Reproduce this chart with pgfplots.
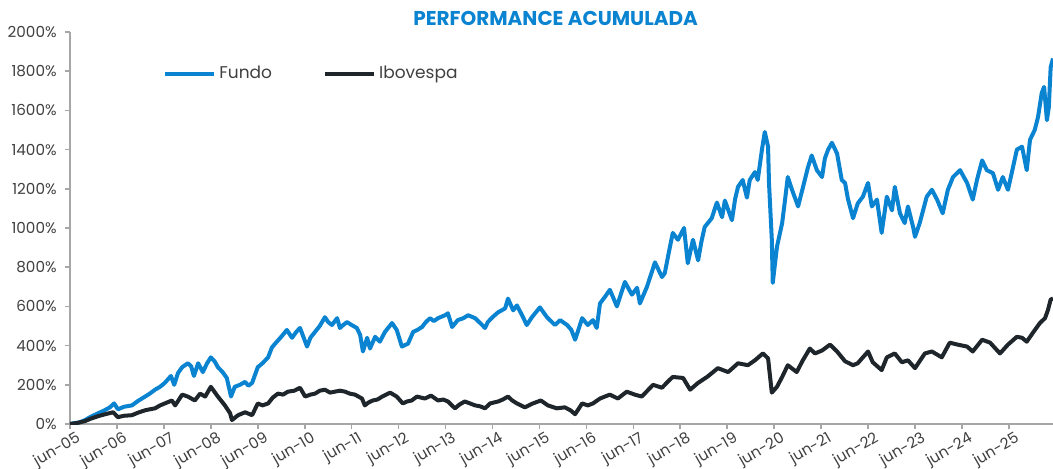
\documentclass[border=0pt]{standalone}
\usepackage{pgfplots}
\pgfplotsset{compat=1.18}
\usepackage{fontspec}
\setmainfont{Poppins}
\definecolor{fundo}{HTML}{0A83D1}
\definecolor{ibov}{HTML}{1E252B}
\definecolor{axgray}{HTML}{A6A6A6}
\definecolor{txt}{HTML}{404040}
\begin{document}
\begin{tikzpicture}
\useasboundingbox (-35pt,-22pt) rectangle (491.5pt,212pt);
\begin{axis}[
  scale only axis,
  width=491.5pt, height=196pt,
  xmin=0, xmax=20.94, ymin=0, ymax=2000,
  axis lines=left,
  axis line style={axgray, line width=0.8pt, -},
  tick style={axgray, line width=0.8pt},
  tick align=outside,
  major tick length=2.5pt,
  xtick={0,1,...,20},
  xticklabels={jun-05,jun-06,jun-07,jun-08,jun-09,jun-10,jun-11,jun-12,jun-13,jun-14,jun-15,jun-16,jun-17,jun-18,jun-19,jun-20,jun-21,jun-22,jun-23,jun-24,jun-25},
  ytick={0,200,...,2000},
  yticklabels={0\%,200\%,400\%,600\%,800\%,1000\%,1200\%,1400\%,1600\%,1800\%,2000\%},
  ticklabel style={font=\fontsize{7.6}{9}\selectfont, text=txt},
  xticklabel style={rotate=30, anchor=north east, inner sep=1pt, xshift=3pt, yshift=-1pt},
  yticklabel style={inner sep=1pt, xshift=-3pt},
  legend columns=2,
  legend style={at={(axis description cs:0.0946,0.893)}, anchor=west, draw=none, fill=none, inner sep=0pt,
    font=\fontsize{8.5}{10}\selectfont, text=txt, nodes={inner sep=1.5pt},
    /tikz/every even column/.append style={column sep=24pt}},
  legend image code/.code={\draw[#1, line width=2pt] (0pt,0pt) -- (24.5pt,0pt);},
  clip mode=individual,
]
\addplot[fundo, line width=2pt, line join=round] coordinates {
(0.00,0) (0.10,5) (0.20,8) (0.32,20) (0.45,38) (0.60,55) (0.72,68) (0.85,85) (0.94,105) (1.02,75) (1.15,88) (1.32,95) (1.45,118) (1.60,140) (1.70,155) (1.81,175) (1.92,190) (2.02,210) (2.15,245) (2.22,200) (2.30,260) (2.39,290) (2.51,310) (2.58,295) (2.64,245) (2.73,310) (2.83,265) (2.92,310) (3.00,340) (3.08,320) (3.15,290) (3.25,265) (3.34,235) (3.43,140) (3.51,190) (3.62,200) (3.73,215) (3.80,195) (3.88,210) (4.00,290) (4.10,310) (4.22,340) (4.30,390) (4.37,410) (4.50,445) (4.62,480) (4.73,440) (4.82,470) (4.90,490) (5.05,395) (5.12,440) (5.22,470) (5.32,500) (5.43,545) (5.50,520) (5.58,505) (5.69,540) (5.75,490) (5.82,505) (5.90,520) (6.00,505) (6.11,490) (6.18,455) (6.24,370) (6.33,440) (6.39,385) (6.50,445) (6.60,420) (6.71,470) (6.86,515) (6.96,480) (7.07,395) (7.20,410) (7.31,470) (7.40,480) (7.50,495) (7.58,520) (7.67,540) (7.75,525) (7.84,540) (7.99,555) (8.05,565) (8.14,495) (8.26,530) (8.38,540) (8.48,555) (8.63,540) (8.78,505) (8.84,490) (8.90,520) (9.00,545) (9.12,570) (9.27,590) (9.33,640) (9.44,580) (9.52,605) (9.63,555) (9.73,505) (9.84,545) (10.01,595) (10.16,545) (10.33,505) (10.44,530) (10.59,505) (10.68,480) (10.76,430) (10.91,540) (11.03,505) (11.14,530) (11.22,490) (11.29,615) (11.40,650) (11.50,685) (11.65,600) (11.82,725) (11.97,660) (12.08,695) (12.14,615) (12.29,700) (12.40,780) (12.46,825) (12.61,750) (12.67,770) (12.76,880) (12.84,975) (12.95,940) (13.08,1000) (13.16,820) (13.27,940) (13.38,835) (13.45,930) (13.52,1005) (13.67,1050) (13.78,1130) (13.89,1055) (13.95,1140) (14.10,1040) (14.17,1150) (14.23,1210) (14.33,1245) (14.42,1155) (14.48,1245) (14.59,1285) (14.65,1245) (14.74,1400) (14.80,1490) (14.87,1415) (14.89,1230) (14.95,940) (14.97,720) (15.06,905) (15.17,1025) (15.23,1140) (15.29,1260) (15.38,1195) (15.51,1110) (15.61,1205) (15.72,1310) (15.80,1370) (15.91,1295) (16.02,1260) (16.08,1355) (16.15,1400) (16.23,1435) (16.34,1380) (16.44,1245) (16.51,1230) (16.57,1150) (16.68,1050) (16.78,1125) (16.89,1160) (17.00,1230) (17.08,1110) (17.19,1145) (17.29,975) (17.40,1160) (17.51,1090) (17.57,1210) (17.68,1075) (17.78,1025) (17.85,1110) (17.96,1005) (18.00,955) (18.10,1025) (18.25,1160) (18.36,1195) (18.47,1145) (18.59,1075) (18.70,1195) (18.81,1260) (18.96,1295) (19.11,1230) (19.23,1145) (19.32,1245) (19.43,1345) (19.53,1295) (19.66,1280) (19.77,1195) (19.87,1260) (19.98,1195) (20.06,1280) (20.17,1400) (20.28,1415) (20.38,1295) (20.45,1450) (20.55,1500) (20.62,1565) (20.70,1690) (20.75,1720) (20.81,1550) (20.85,1615) (20.89,1820) (20.94,1865)
};
\addlegendentry{Fundo}
\addplot[ibov, line width=2pt, line join=round] coordinates {
(0.00,0) (0.15,5) (0.32,15) (0.45,28) (0.60,40) (0.75,50) (0.92,60) (1.02,35) (1.15,42) (1.32,45) (1.45,58) (1.60,70) (1.70,75) (1.81,80) (1.92,95) (2.02,105) (2.17,120) (2.24,95) (2.39,150) (2.51,140) (2.66,120) (2.77,155) (2.88,140) (3.00,190) (3.15,140) (3.30,95) (3.41,55) (3.45,20) (3.58,45) (3.73,60) (3.88,45) (4.00,105) (4.10,95) (4.22,105) (4.32,135) (4.43,155) (4.54,150) (4.64,165) (4.78,170) (4.90,185) (5.01,140) (5.12,150) (5.22,155) (5.32,170) (5.43,175) (5.54,160) (5.64,165) (5.75,170) (5.86,165) (5.96,155) (6.07,150) (6.22,130) (6.28,95) (6.36,110) (6.45,120) (6.55,125) (6.65,140) (6.82,160) (6.96,140) (7.09,105) (7.18,115) (7.28,120) (7.39,140) (7.56,130) (7.69,145) (7.84,120) (7.95,125) (8.05,115) (8.20,80) (8.30,100) (8.41,115) (8.52,105) (8.63,95) (8.74,90) (8.84,80) (8.95,105) (9.12,115) (9.22,125) (9.33,140) (9.42,120) (9.52,105) (9.69,85) (9.86,105) (10.03,120) (10.18,95) (10.37,80) (10.54,85) (10.66,70) (10.76,50) (10.91,105) (11.03,95) (11.14,105) (11.29,130) (11.50,150) (11.67,130) (11.86,165) (12.03,150) (12.18,140) (12.30,170) (12.42,200) (12.61,185) (12.75,220) (12.84,240) (13.06,235) (13.21,175) (13.38,210) (13.57,240) (13.70,265) (13.80,285) (14.02,265) (14.23,310) (14.44,300) (14.59,325) (14.76,360) (14.87,335) (14.95,160) (15.06,190) (15.17,240) (15.29,300) (15.48,265) (15.61,325) (15.76,385) (15.87,360) (16.02,375) (16.19,405) (16.34,370) (16.51,320) (16.68,300) (16.78,310) (17.00,370) (17.10,315) (17.29,275) (17.40,340) (17.57,360) (17.72,315) (17.85,325) (18.00,285) (18.21,360) (18.36,370) (18.57,340) (18.74,415) (18.91,405) (19.11,395) (19.23,370) (19.43,430) (19.60,415) (19.81,360) (19.98,405) (20.17,445) (20.28,440) (20.38,420) (20.51,465) (20.66,515) (20.77,540) (20.83,580) (20.89,635) (20.94,640)
};
\addlegendentry{Ibovespa}
\node[text=fundo, font=\fontsize{10}{12}\selectfont\bfseries, anchor=center] at (axis description cs:0.494,1.035) {PERFORMANCE ACUMULADA};
\end{axis}
\end{tikzpicture}
\end{document}
